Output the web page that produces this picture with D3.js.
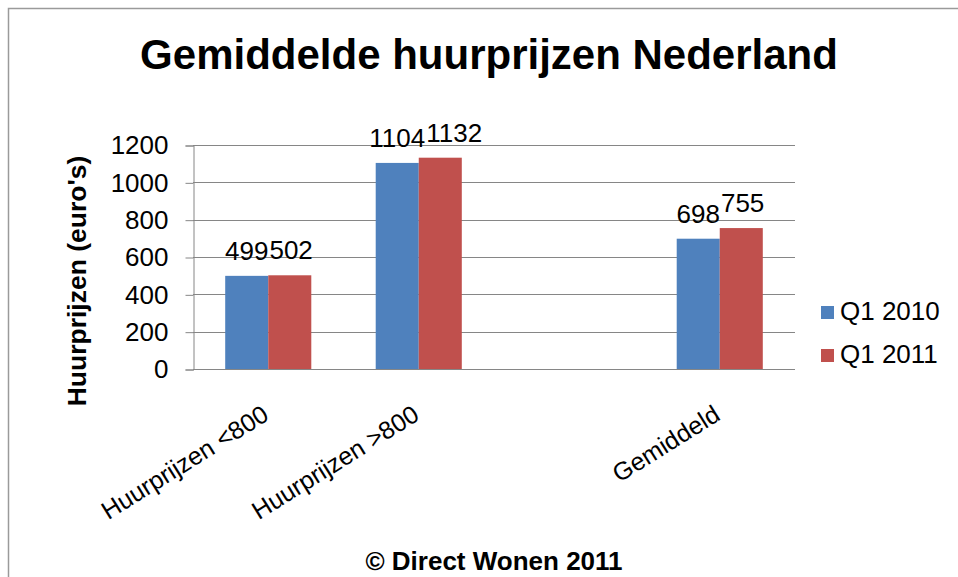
<!DOCTYPE html>
<html>
<head>
<meta charset="utf-8">
<script src="https://cdn.jsdelivr.net/npm/d3@7"></script>
<style>
  body { margin: 0; background: #fff; }
  text { font-family: 'Liberation Sans', Arial, sans-serif; fill: #000; }
</style>
</head>
<body>
<div id="chart"></div>
<script>
// --------------------------------------------------------- Data variables
var categories = ['Huurprijzen <800', 'Huurprijzen >800', ' ', 'Gemiddeld'];
var seriesNames = ['Q1 2010', 'Q1 2011'];
var q2010 = [499, 1104, null, 698];
var q2011 = [502, 1132, null, 755];
var yTicks = [0, 200, 400, 600, 800, 1000, 1200];
var colors = ['#4F81BD', '#C0504D'];
// -------------------------------------------------------- /Data variables

var width = 958,
    height = 577,
    plot = {left: 193, right: 795, top: 145, bottom: 369};

var svg = d3.select('#chart').append('svg')
    .attr('width', width)
    .attr('height', height);

// outer frame of the chart object
svg.append('rect')
    .attr('x', 8.5).attr('y', 8.5)
    .attr('width', 1000).attr('height', 1000)
    .attr('fill', 'none')
    .attr('stroke', '#9a9a9a')
    .attr('stroke-width', 1.5);

svg.append('text')
    .attr('x', 489).attr('y', 69)
    .attr('text-anchor', 'middle')
    .style('font-size', '42px')
    .style('font-weight', 'bold')
    .text('Gemiddelde huurprijzen Nederland');

var x0 = d3.scaleBand()
    .domain(categories)
    .range([plot.left, plot.right])
    .paddingInner(0.428)
    .paddingOuter(0.214);

var x1 = d3.scaleBand()
    .domain(seriesNames)
    .range([0, x0.bandwidth()]);

var y = d3.scaleLinear()
    .domain([0, 1200])
    .range([plot.bottom, plot.top]);

// gridlines
svg.append('g')
    .selectAll('line')
    .data(yTicks)
  .enter().append('line')
    .attr('x1', plot.left).attr('x2', plot.right)
    .attr('y1', function(d) { return Math.round(y(d)) + 0.5; })
    .attr('y2', function(d) { return Math.round(y(d)) + 0.5; })
    .attr('stroke', '#868686');

var yAxis = d3.axisLeft(y)
    .tickValues(yTicks)
    .tickSize(8)
    .tickPadding(17)
    .tickFormat(d3.format('d'));

var y_axis = svg.append('g')
    .attr('transform', 'translate(' + (plot.left + 0.5) + ',0.5)')
    .call(yAxis);
y_axis.selectAll('path').attr('stroke', '#868686');
y_axis.selectAll('line').attr('stroke', '#868686');
y_axis.selectAll('text')
    .style('font-size', '26px')
    .style('font-family', "'Liberation Sans', Arial, sans-serif")
    .attr('fill', '#000');

svg.append('text')
    .attr('transform', 'translate(86,281) rotate(-90)')
    .attr('text-anchor', 'middle')
    .style('font-size', '26.5px')
    .style('font-weight', 'bold')
    .text("Huurprijzen (euro's)");

// bars
var data = [];
categories.forEach(function(c, i) {
  data.push({cat: c, series: seriesNames[0], value: q2010[i], color: colors[0]});
  data.push({cat: c, series: seriesNames[1], value: q2011[i], color: colors[1]});
});
data = data.filter(function(d) { return d.value != null; });

var bars = svg.append('g');

bars.selectAll('rect')
    .data(data)
  .enter().append('rect')
    .attr('x', function(d) { return x0(d.cat) + x1(d.series); })
    .attr('width', x1.bandwidth())
    .attr('y', function(d) { return y(d.value); })
    .attr('height', function(d) { return y(0) - y(d.value); })
    .attr('fill', function(d) { return d.color; });

var labels = bars.selectAll('text')
    .data(data)
  .enter().append('text')
    .attr('x', function(d) { return x0(d.cat) + x1(d.series) + x1.bandwidth() / 2; })
    .attr('y', function(d) { return y(d.value); })
    .attr('dy', -16)
    .attr('text-anchor', 'middle')
    .style('font-size', '26px')
    .text(function(d) { return d.value; });

// push the second label of a group to the right when the two collide, like Excel does
var nodes = labels.nodes();
for (var i = 1; i < nodes.length; i++) {
  var prev = nodes[i - 1].getBBox(), cur = nodes[i].getBBox();
  if (data[i].cat == data[i - 1].cat && prev.x + prev.width > cur.x) {
    var shift = prev.x + prev.width - cur.x + 1;
    d3.select(nodes[i]).attr('x', +d3.select(nodes[i]).attr('x') + shift);
  }
}

// category labels
svg.append('g')
    .selectAll('text')
    .data(categories)
  .enter().append('text')
    .attr('transform', function(d) {
      return 'translate(' + (x0(d) + x0.bandwidth() / 2 + 2) + ',419) rotate(-32)';
    })
    .attr('text-anchor', 'end')
    .style('font-size', '25px')
    .text(function(d) { return d; });

// legend
var legend = svg.append('g')
    .selectAll('g')
    .data(seriesNames)
  .enter().append('g')
    .attr('transform', function(d, i) { return 'translate(821,' + (306 + i * 43) + ')'; });

legend.append('rect')
    .attr('width', 13).attr('height', 13)
    .attr('fill', function(d, i) { return colors[i]; });

legend.append('text')
    .attr('x', 19).attr('y', 14)
    .style('font-size', '26px')
    .text(function(d) { return d; });

svg.append('text')
    .attr('x', 494).attr('y', 570)
    .attr('text-anchor', 'middle')
    .style('font-size', '26px')
    .style('font-weight', 'bold')
    .text('\u00A9 Direct Wonen 2011');
</script>
</body>
</html>
